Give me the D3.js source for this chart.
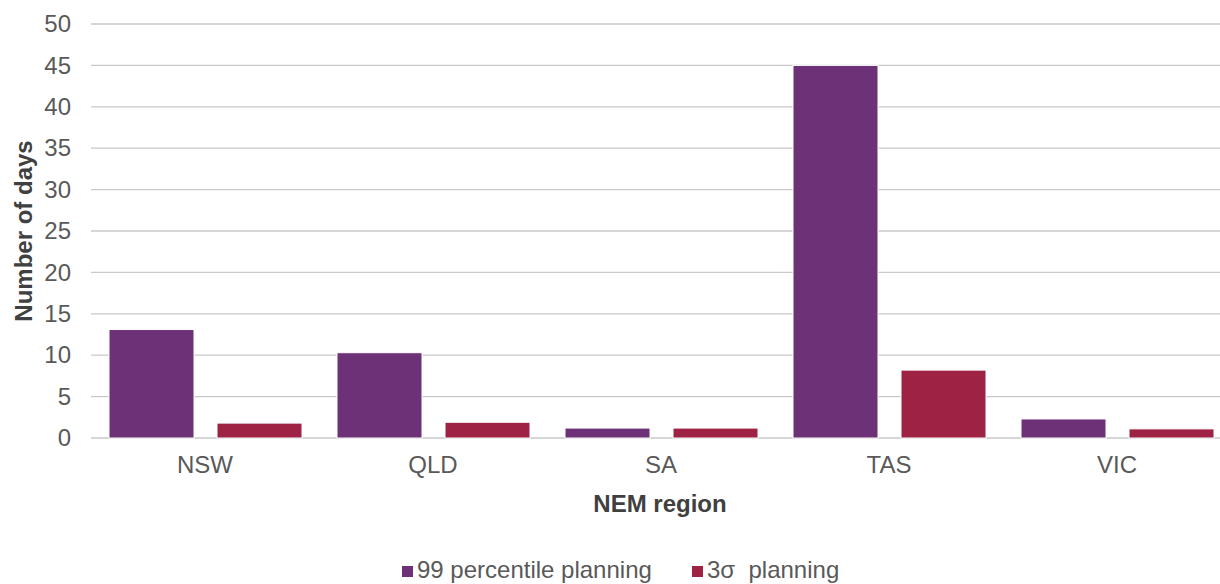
<!DOCTYPE html>
<html>
<head>
<meta charset="utf-8">
<script src="https://cdn.jsdelivr.net/npm/d3@7"></script>
<style>
  html, body { margin: 0; padding: 0; background: #fff; }
  svg { display: block; font-family: "Liberation Sans", Arial, sans-serif; }
</style>
</head>
<body>
<svg id="chart" width="1220" height="584"></svg>
<script>
const categories = ["NSW", "QLD", "SA", "TAS", "VIC"];
const seriesNames = ["99 percentile planning", "3\u03c3  planning"];
const p99Values = [13.1, 10.3, 1.2, 45, 2.3];
const sigma3Values = [1.8, 1.9, 1.2, 8.2, 1.1];
const yTicks = [0, 5, 10, 15, 20, 25, 30, 35, 40, 45, 50];
const colors = ["#6C3177", "#9D2243"];

const svg = d3.select("#chart");
const plotLeft = 91, plotRight = 1231, plotTop = 24, plotBottom = 438;

const x0 = d3.scaleBand().domain(categories).range([plotLeft, plotRight]).padding(0);
const x1 = d3.scaleBand().domain([0, 1]).range([18, x0.bandwidth() - 17]).paddingInner(0.213).paddingOuter(0);
const y = d3.scaleLinear().domain([0, 50]).range([plotBottom, plotTop]);

// gridlines
svg.append("g").selectAll("line").data(yTicks).join("line")
  .attr("x1", plotLeft).attr("x2", 1220)
  .attr("y1", d => y(d)).attr("y2", d => y(d))
  .attr("stroke", "#c9c9c9").attr("stroke-width", 1.3);

// y tick labels via axis
const yAxis = svg.append("g").attr("transform", `translate(${plotLeft},0)`)
  .call(d3.axisLeft(y).tickValues(yTicks).tickSize(0).tickPadding(20));
yAxis.select(".domain").remove();
yAxis.selectAll("text").attr("font-size", 24).attr("fill", "#595959")
  .attr("font-family", "Liberation Sans, Arial, sans-serif");

// bars
const data = categories.map((c, i) => ({ c, vals: [p99Values[i], sigma3Values[i]] }));
const groups = svg.append("g").selectAll("g").data(data).join("g")
  .attr("transform", d => `translate(${x0(d.c)},0)`);
groups.selectAll("rect").data(d => d.vals.map((v, k) => ({ v, k }))).join("rect")
  .attr("x", d => x1(d.k))
  .attr("width", x1.bandwidth())
  .attr("y", d => y(d.v))
  .attr("height", d => y(0) - y(d.v))
  .attr("fill", d => colors[d.k])
  .attr("stroke", "#fff").attr("stroke-width", 1);

// x axis labels
const xAxis = svg.append("g").attr("transform", `translate(0,${plotBottom})`)
  .call(d3.axisBottom(x0).tickSize(0).tickPadding(18));
xAxis.select(".domain").remove();
xAxis.selectAll("text").attr("font-size", 24).attr("fill", "#595959")
  .attr("font-family", "Liberation Sans, Arial, sans-serif");

// axis titles
svg.append("text").attr("x", 660).attr("y", 512).attr("text-anchor", "middle")
  .attr("font-size", 24).attr("font-weight", "bold").attr("fill", "#404040")
  .text("NEM region");
svg.append("text").attr("transform", "translate(32,231) rotate(-90)")
  .attr("text-anchor", "middle")
  .attr("font-size", 24).attr("font-weight", "bold").attr("fill", "#404040")
  .text("Number of days");

// legend
const legendItems = [{ x: 402, name: seriesNames[0], color: colors[0] }, { x: 692, name: seriesNames[1], color: colors[1] }];
const lg = svg.append("g").selectAll("g").data(legendItems).join("g")
  .attr("transform", d => `translate(${d.x},0)`);
lg.append("rect").attr("x", 0).attr("y", 566).attr("width", 11).attr("height", 11)
  .attr("fill", d => d.color);
lg.append("text").attr("x", 15).attr("y", 578)
  .attr("font-size", 24).attr("fill", "#595959")
  .attr("xml:space", "preserve").style("white-space", "pre")
  .text(d => d.name);
</script>
</body>
</html>
